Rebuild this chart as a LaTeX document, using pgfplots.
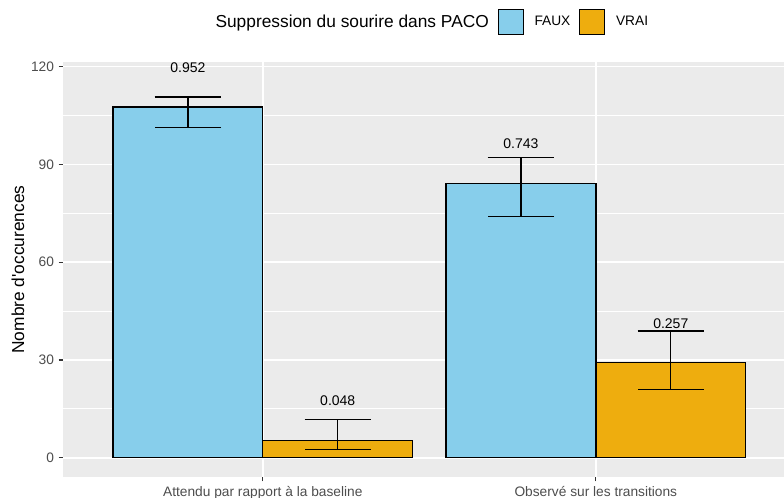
\documentclass[border=0pt]{standalone}
\usepackage{fontspec}
\setmainfont{Liberation Sans}[Ligatures=TeXOff]
\usepackage{pgfplots}
\pgfplotsset{compat=1.18}
\usetikzlibrary{calc}
\definecolor{faux}{HTML}{87CEEB}
\definecolor{vrai}{HTML}{EEAD0E}
\definecolor{panel}{HTML}{EBEBEB}
\definecolor{tickcol}{HTML}{4D4D4D}
\definecolor{tickmark}{HTML}{333333}
\begin{document}
\begin{tikzpicture}
\begin{axis}[
  scale only axis, width=540.75pt, height=311.25pt,
  xmin=-0.6, xmax=1.565, ymin=-5.9, ymax=121.4,
  axis line style={draw=none},
  axis background/.style={fill=panel},
  xtick={0,1},
  xticklabels={Attendu par rapport à la baseline, Observé sur les transitions},
  ytick={0,30,60,90,120}, minor ytick={15,45,75,105},
  tick pos=left, tick align=outside, major tick length=3.2pt, minor tick length=0pt,
  tick style={tickmark, line width=0.8pt},
  xmajorgrids, ymajorgrids, yminorgrids,
  major grid style={white, line width=1.2pt},
  minor grid style={white, line width=0.6pt},
  ticklabel style={font=\fontsize{10.3}{12}\selectfont, text=tickcol},
  /pgf/number format/assume math mode=true,
  every axis y label/.style={at={(axis description cs:-0.0624,0.5)}, rotate=90, anchor=center, font=\fontsize{13}{15}\selectfont},
  ylabel={Nombre d'occurences},
  legend columns=3,
  legend style={at={(axis description cs:0.506,1.0964)}, anchor=center, draw=none, fill=none,
    font=\fontsize{10.3}{12}\selectfont, inner sep=0pt,
    /tikz/every odd column/.append style={column sep=6pt},
    /tikz/every even column/.append style={column sep=4.5pt}},
]
\addlegendimage{empty legend}
\addlegendentry{\fontsize{13}{15}\selectfont Suppression du sourire dans PACO}

\addplot[ybar, bar width=0.45, bar shift=0, fill=faux, draw=black, line width=1pt,
  /pgfplots/legend image code/.code={\draw[fill=faux, draw=black, line width=1pt] (0pt,-9.4pt) rectangle (18.75pt,9.4pt);},
  error bars/.cd, y dir=both, y explicit, error mark=|,
  error bar style={line width=1pt, black},
  error mark options={mark size=24.9pt, line width=1pt, black}]
  table[x=x, y=y, y error plus=ep, y error minus=em] {
x y ep em
-0.225 107.6 3.1 6.3
0.775 84.2 7.9 10.1
};
\addlegendentry{FAUX}

\addplot[ybar, bar width=0.45, bar shift=0, fill=vrai, draw=black, line width=1pt,
  /pgfplots/legend image code/.code={\draw[fill=vrai, draw=black, line width=1pt] (0pt,-9.4pt) rectangle (18.75pt,9.4pt);},
  error bars/.cd, y dir=both, y explicit, error mark=|,
  error bar style={line width=1pt, black},
  error mark options={mark size=24.9pt, line width=1pt, black}]
  table[x=x, y=y, y error plus=ep, y error minus=em] {
x y ep em
0.225 5.4 6.4 2.9
1.225 29.2 9.7 8.2
};
\addlegendentry{VRAI}

\addplot[draw=none, mark=none, forget plot, nodes near coords, point meta=explicit symbolic,
  every node near coord/.append style={anchor=center, font=\fontsize{10.5}{12}\selectfont, text=black, inner sep=0pt}]
  table[x=x, y=y, meta=label] {
x y label
-0.225 119.7 0.952
0.225 17.5 0.048
0.775 96.2 0.743
1.225 41.0 0.257
};
\end{axis}
\pgfresetboundingbox
\path[use as bounding box] ($(current axis.south west)+(-47.25pt,-15pt)$) rectangle ($(current axis.north east)+(0pt,46.5pt)$);
\end{tikzpicture}
\end{document}
